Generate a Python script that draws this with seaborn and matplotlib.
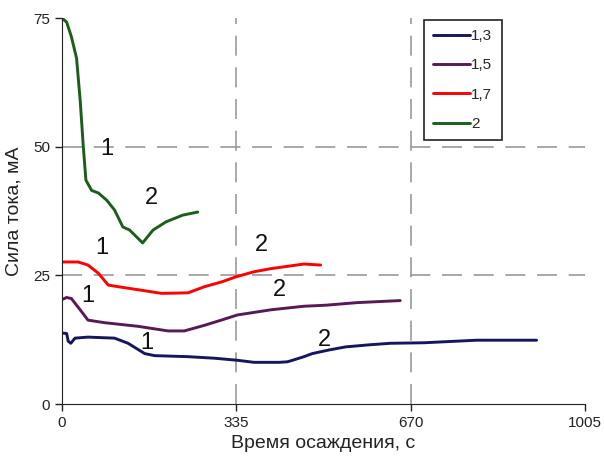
import pandas as pd
import matplotlib.pyplot as plt
import seaborn as sns

sns.set_style("ticks")
plt.rcParams['font.family'] = ['Liberation Sans', 'DejaVu Sans']

# Curves: time (s) and current (mA)
t_13 = [0, 9, 12, 17, 25, 50, 101, 127, 159, 178, 242, 293, 337, 369, 417, 433, 443,
        465, 481, 513, 545, 590, 631, 695, 797, 912]
i_13 = [13.8, 13.7, 12.2, 11.8, 12.8, 13.0, 12.8, 11.8, 9.8, 9.4, 9.2, 8.9, 8.5, 8.1, 8.1,
        8.2, 8.5, 9.2, 9.8, 10.5, 11.1, 11.5, 11.8, 11.9, 12.4, 12.4]

t_15 = [0, 9, 18, 35, 50, 82, 146, 204, 235, 274, 306, 337, 401, 465, 507, 567, 650]
i_15 = [20.3, 20.7, 20.5, 18.3, 16.3, 15.8, 15.1, 14.2, 14.2, 15.3, 16.3, 17.3, 18.3,
        19.0, 19.2, 19.7, 20.1]

t_17 = [0, 31, 50, 70, 89, 114, 153, 191, 242, 274, 306, 334, 369, 401, 465, 497]
i_17 = [27.6, 27.6, 27.0, 25.4, 23.1, 22.7, 22.1, 21.5, 21.6, 22.8, 23.7, 24.7, 25.7,
        26.3, 27.2, 27.0]

t_2 = [0, 9, 18, 28, 35, 41, 46, 57, 70, 86, 101, 117, 130, 155, 175, 200, 232, 261]
i_2 = [75.0, 74.2, 71.4, 67.2, 59.0, 50.0, 43.5, 41.5, 41.0, 39.6, 37.7, 34.4, 33.8,
       31.3, 33.8, 35.4, 36.7, 37.3]

series = ["1,3", "1,5", "1,7", "2"]
colors = ["#16165c", "#561a56", "#ff0000", "#1b5e1b"]

# "1" / "2" markers placed next to each curve
marks_t = [163, 505, 50, 417, 77, 383, 86, 172]
marks_i = [11.8, 12.4, 21.0, 22.1, 30.3, 30.9, 49.5, 40.0]
marks_txt = ["1", "2", "1", "2", "1", "2", "1", "2"]

frames = []
for name, t, i in zip(series, [t_13, t_15, t_17, t_2], [i_13, i_15, i_17, i_2]):
    frames.append(pd.DataFrame({"t": t, "i": i, "series": name}))
df = pd.concat(frames, ignore_index=True)

fig = plt.figure(figsize=(6.04, 4.62), dpi=100)
ax = fig.add_axes([0.1026, 0.1255, 0.8659, 0.8355])

for x in [335, 670]:
    ax.axvline(x, color="#999999", lw=1.2, dashes=(12, 7), zorder=0)
for y in [25, 50]:
    ax.axhline(y, color="#999999", lw=1.2, dashes=(12, 7), zorder=0)

sns.lineplot(data=df, x="t", y="i", hue="series", palette=colors, sort=False,
             estimator=None, lw=2.1, ax=ax)

for x, y, s in zip(marks_t, marks_i, marks_txt):
    ax.text(x, y, s, fontsize=17, ha="center", va="center", color="#111111")

ax.set_xlim(0, 1005)
ax.set_ylim(0, 75)
ax.set_xticks([0, 335, 670, 1005])
ax.set_yticks([0, 25, 50, 75])
ax.tick_params(labelsize=11, length=5, width=1, colors="#222222")
ax.set_xlabel("Время осаждения, с", fontsize=14, color="#222222", labelpad=4)
ax.set_ylabel("Сила тока, мА", fontsize=14, color="#222222", labelpad=8)
sns.despine(ax=ax)
for sp in ["left", "bottom"]:
    ax.spines[sp].set_color("#222222")

leg = ax.legend(loc="upper left", bbox_to_anchor=(0.692, 0.995), fontsize=11,
                handlelength=2.4, handletextpad=0.1, labelspacing=1.0,
                borderpad=0.6, fancybox=False, framealpha=1, edgecolor="#222222",
                borderaxespad=0)
leg.get_frame().set_linewidth(1.2)

plt.savefig("out.png", dpi=100)
